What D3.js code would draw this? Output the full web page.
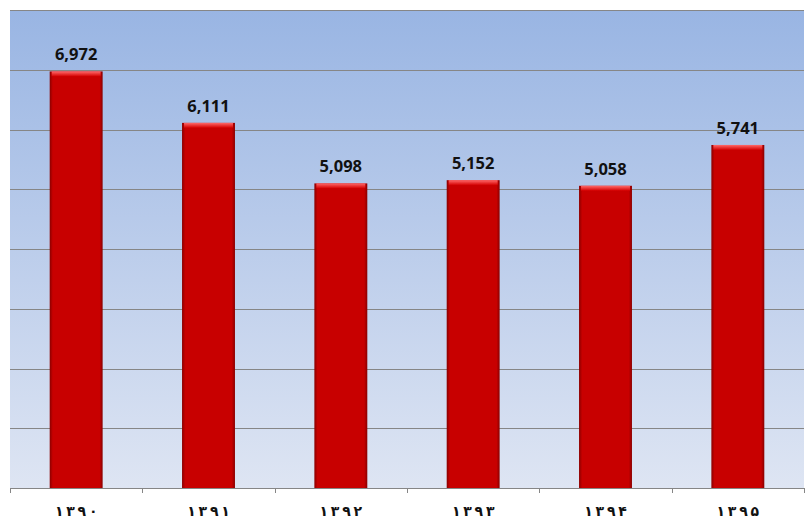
<!DOCTYPE html>
<html><head><meta charset="utf-8">
<script src="https://cdn.jsdelivr.net/npm/d3@7"></script>
<style>body{margin:0;background:#fff}svg{display:block}</style>
</head><body>
<script>
const categories = ["۱۳۹۰","۱۳۹۱","۱۳۹۲","۱۳۹۳","۱۳۹۴","۱۳۹۵"];
const values = [6972, 6111, 5098, 5152, 5058, 5741];
const yTicks = [0,1000,2000,3000,4000,5000,6000,7000,8000];

const W = 808, H = 529;
const m = {left:10, right:4, top:10, bottom:41};
const svg = d3.select("body").append("svg").attr("width",W).attr("height",H);
const defs = svg.append("defs");
const bg = defs.append("linearGradient").attr("id","bg").attr("x1",0).attr("y1",0).attr("x2",0).attr("y2",1);
bg.append("stop").attr("offset","0%").attr("stop-color","#99b5e3");
bg.append("stop").attr("offset","100%").attr("stop-color","#dee5f3");
const bar = defs.append("linearGradient").attr("id","bar").attr("x1",0).attr("y1",0).attr("x2",1).attr("y2",0);
bar.append("stop").attr("offset","0%").attr("stop-color","#8a0000");
bar.append("stop").attr("offset","6%").attr("stop-color","#c80000");
bar.append("stop").attr("offset","94%").attr("stop-color","#c80000");
bar.append("stop").attr("offset","100%").attr("stop-color","#8a0000");
const cap = defs.append("linearGradient").attr("id","cap").attr("x1",0).attr("y1",0).attr("x2",0).attr("y2",1);
cap.append("stop").attr("offset","0%").attr("stop-color","#ff6a6a");
cap.append("stop").attr("offset","100%").attr("stop-color","#d40000");

const x = d3.scaleBand().domain(categories).range([m.left, W-m.right]).paddingInner(0.6).paddingOuter(0.3);
const xb = d3.scaleBand().domain(categories).range([m.left, W-m.right]);
const y = d3.scaleLinear().domain([0,8000]).range([H-m.bottom, m.top]);

svg.append("rect").attr("x",m.left).attr("y",m.top).attr("width",W-m.left-m.right).attr("height",H-m.top-m.bottom).attr("fill","url(#bg)");

svg.append("g").selectAll("line").data(yTicks.slice(1)).join("line")
  .attr("x1",m.left).attr("x2",W-m.right).attr("y1",d=>Math.round(y(d))+0.5).attr("y2",d=>Math.round(y(d))+0.5)
  .attr("stroke","#868686").attr("stroke-width",1);

const g = svg.append("g");
g.selectAll("rect.b").data(values).join("rect").attr("class","b")
  .attr("x",(d,i)=>x(categories[i])).attr("width",x.bandwidth())
  .attr("y",d=>y(d)).attr("height",d=>y(0)-y(d)).attr("fill","url(#bar)");
g.selectAll("rect.c").data(values).join("rect").attr("class","c")
  .attr("x",(d,i)=>x(categories[i])+2).attr("width",x.bandwidth()-4)
  .attr("y",d=>y(d)).attr("height",5).attr("fill","url(#cap)");

g.selectAll("text").data(values).join("text")
  .attr("x",(d,i)=>x(categories[i])+x.bandwidth()/2).attr("y",d=>y(d)-11)
  .attr("text-anchor","middle").attr("font-family","'Open Sans', Lato, sans-serif")
  .attr("font-weight","bold").attr("font-size",16.5).attr("fill","#111")
  .text(d=>d3.format(",")(d));

const ax = d3.axisBottom(xb).tickSize(5).tickSizeOuter(5).tickFormat("");
const axg = svg.append("g").attr("transform",`translate(0,${H-m.bottom})`).call(ax);
axg.selectAll(".tick").remove();
const edges = d3.range(categories.length+1).map(i=>m.left + i*xb.step());
axg.selectAll("line.e").data(edges).join("line").attr("class","e")
  .attr("x1",d=>Math.round(d)+0.5).attr("x2",d=>Math.round(d)+0.5).attr("y1",0).attr("y2",5).attr("stroke","#868686");
axg.select(".domain").attr("stroke","#868686");

svg.append("g").selectAll("text").data(categories).join("text")
  .attr("x",d=>xb(d)+xb.bandwidth()/2).attr("y",H-13)
  .attr("text-anchor","middle").attr("font-family","'DejaVu Sans', sans-serif")
  .attr("font-weight","bold").attr("font-size",14).attr("fill","#111")
  .text(d=>Array.from(d).join("\u2009"));
</script>
</body></html>
